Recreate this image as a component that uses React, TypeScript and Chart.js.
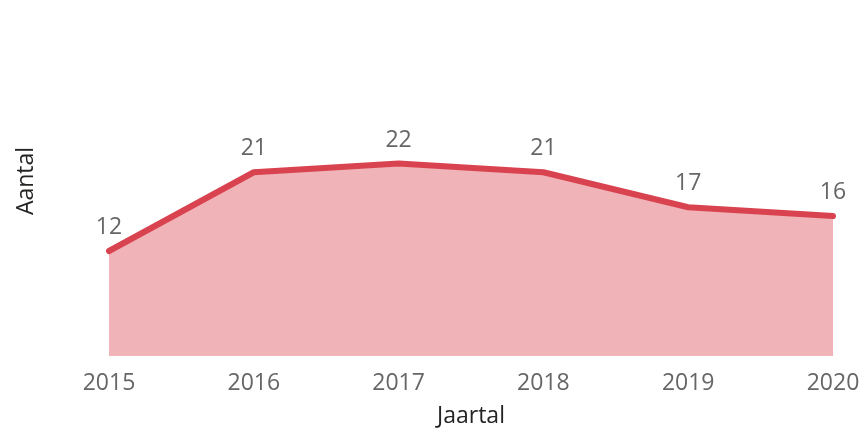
import React, { useEffect, useRef } from "react";
import { Chart, registerables } from "chart.js";

Chart.register(...registerables);

const years = ["2015", "2016", "2017", "2018", "2019", "2020"];
const counts = [12, 21, 22, 21, 17, 16];
const xTitle = "Jaartal";
const yTitle = "Aantal";

const FONT = "'Open Sans', 'Noto Sans', sans-serif";

const dataLabels = {
  id: "dataLabels",
  afterDatasetsDraw(chart: any) {
    const { ctx } = chart;
    const meta = chart.getDatasetMeta(0);
    ctx.save();
    ctx.font = `23px ${FONT}`;
    ctx.fillStyle = "#666666";
    ctx.textAlign = "center";
    ctx.textBaseline = "alphabetic";
    meta.data.forEach((pt: any, i: number) => {
      ctx.fillText(String(counts[i]), pt.x, pt.y - 17);
    });
    ctx.restore();
  },
};

export default function App() {
  const ref = useRef<HTMLCanvasElement>(null);
  useEffect(() => {
    if (!ref.current) return;
    const chart = new Chart(ref.current, {
      type: "line",
      data: {
        labels: years,
        datasets: [
          {
            data: counts,
            borderColor: "#D9434F",
            backgroundColor: "#EFB3B8",
            borderWidth: 6,
            fill: "origin",
            pointRadius: 0,
            tension: 0,
            borderCapStyle: "round",
            borderJoinStyle: "round",
          },
        ],
      },
      options: {
        responsive: false,
        animation: false,
        layout: { padding: { left: 9, right: 32, top: 6, bottom: 1 } },
        plugins: { legend: { display: false }, tooltip: { enabled: false } },
        scales: {
          x: {
            offset: false,
            grid: { display: false, drawTicks: false },
            border: { display: false },
            ticks: {
              color: "#666666",
              font: { family: FONT, size: 23 },
              padding: 14,
              maxRotation: 0,
              autoSkip: false,
            },
            title: {
              display: true,
              text: xTitle,
              color: "#252423",
              font: { family: FONT, size: 23 },
              padding: { top: 2, bottom: 0 },
            },
            afterFit(scale: any) {
              scale.height = 74;
              scale.paddingLeft = 0;
              scale.paddingRight = 0;
            },
          },
          y: {
            min: 0,
            max: 40,
            grid: { display: false, drawTicks: false },
            border: { display: false },
            ticks: { display: false },
            title: {
              display: true,
              text: yTitle,
              color: "#252423",
              font: { family: FONT, size: 23 },
              padding: { top: 4, bottom: 4 },
            },
            afterFit(scale: any) {
              scale.width = 100;
            },
          },
        },
      },
      plugins: [dataLabels],
    });
    return () => chart.destroy();
  }, []);
  return (
    <div style={{ position: "absolute", left: 0, top: 0, width: 865, height: 431, background: "#fff" }}>
      <canvas ref={ref} width={865} height={431} />
    </div>
  );
}
